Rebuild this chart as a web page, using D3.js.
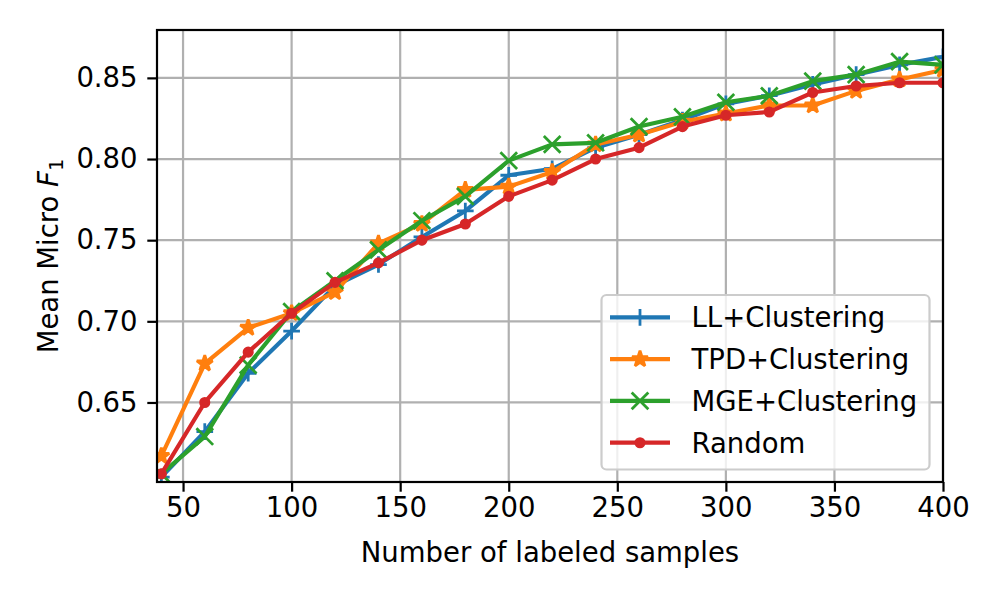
<!DOCTYPE html>
<html><head><meta charset="utf-8">
<script src="https://cdn.jsdelivr.net/npm/d3@7"></script>
<style>body{margin:0;background:#fff}svg{display:block}text{font-family:"DejaVu Sans",sans-serif}</style>
</head><body>
<svg id="c" width="1000" height="600"></svg>
<script>
const samples = [40,60,80,100,120,140,160,180,200,220,240,260,280,300,320,340,360,380,400];
const llClustering  = [0.604,0.632,0.668,0.694,0.722,0.735,0.752,0.768,0.790,0.794,0.807,0.815,0.824,0.834,0.839,0.846,0.852,0.858,0.863];
const tpdClustering = [0.617,0.674,0.696,0.705,0.718,0.748,0.760,0.781,0.783,0.792,0.809,0.815,0.823,0.828,0.833,0.833,0.842,0.849,0.855];
const mgeClustering = [0.606,0.629,0.673,0.706,0.725,0.744,0.762,0.777,0.799,0.809,0.810,0.820,0.826,0.835,0.839,0.848,0.852,0.860,0.858];
const randomSel     = [0.606,0.650,0.681,0.705,0.724,0.736,0.750,0.760,0.777,0.787,0.800,0.807,0.820,0.827,0.829,0.841,0.845,0.847,0.847];
const xTicks = [50,100,150,200,250,300,350,400];
const yTicks = [0.65,0.70,0.75,0.80,0.85];
const seriesNames = ["LL+Clustering","TPD+Clustering","MGE+Clustering","Random"];
const seriesColors = ["#1f77b4","#ff7f0e","#2ca02c","#d62728"];
const seriesMarkers = ["plus","star","x","point"];
const seriesData = [llClustering,tpdClustering,mgeClustering,randomSel];

const L=157,R=943,T=30,B=482;
const svg=d3.select("#c");
const x=d3.scaleLinear().domain([38,400]).range([L,R]);
const y=d3.scaleLinear().domain([0.601,0.8795]).range([B,T]);

// grid
const g=svg.append("g");
g.selectAll(".gx").data(xTicks).join("line").attr("x1",d=>x(d)).attr("x2",d=>x(d)).attr("y1",T).attr("y2",B).attr("stroke","#b0b0b0").attr("stroke-width",2.2);
g.selectAll(".gy").data(yTicks).join("line").attr("y1",d=>y(d)).attr("y2",d=>y(d)).attr("x1",L).attr("x2",R).attr("stroke","#b0b0b0").attr("stroke-width",2.2);

function markerPath(type){
  const s=8.33;
  if(type==="plus") return `M${-s},0H${s}M0,${-s}V${s}`;
  if(type==="x") return `M${-s},${-s}L${s},${s}M${-s},${s}L${s},${-s}`;
  if(type==="star"){
    let p="";for(let i=0;i<10;i++){const r=i%2?s*0.382:s;const a=-Math.PI/2+i*Math.PI/5;p+=(i?"L":"M")+(r*Math.cos(a)).toFixed(2)+","+(r*Math.sin(a)).toFixed(2);}return p+"Z";
  }
  return null;
}
function drawMarker(sel,type,color){
  if(type==="point") sel.append("circle").attr("r",4.17).attr("fill",color).attr("stroke",color).attr("stroke-width",2.78);
  else if(type==="star") sel.append("path").attr("d",markerPath(type)).attr("fill",color).attr("stroke",color).attr("stroke-width",2.78).attr("stroke-linejoin","bevel");
  else sel.append("path").attr("d",markerPath(type)).attr("fill","none").attr("stroke",color).attr("stroke-width",2.78);
}

svg.append("clipPath").attr("id","pc").append("rect").attr("x",L).attr("y",T).attr("width",R-L).attr("height",B-T);
const plot=svg.append("g").attr("clip-path","url(#pc)");
const line=d3.line().x((d,i)=>x(samples[i])).y(d=>y(d));
seriesData.forEach((vals,k)=>{
  const sg=plot.append("g");
  sg.append("path").datum(vals).attr("d",line).attr("fill","none").attr("stroke",seriesColors[k]).attr("stroke-width",4.17).attr("stroke-linejoin","round").attr("stroke-linecap","square");
  vals.forEach((v,i)=>{
    const m=sg.append("g").attr("transform",`translate(${x(samples[i])},${y(v)})`);
    drawMarker(m,seriesMarkers[k],seriesColors[k]);
  });
});

// axes
const xa=svg.append("g").attr("transform",`translate(0,${B})`).call(d3.axisBottom(x).tickValues(xTicks).tickSize(9.7).tickPadding(6));
const ya=svg.append("g").attr("transform",`translate(${L},0)`).call(d3.axisLeft(y).tickValues(yTicks).tickFormat(d3.format(".2f")).tickSize(9.7).tickPadding(9.7));
[xa,ya].forEach(a=>{a.select(".domain").remove();a.selectAll("line").attr("stroke","#000").attr("stroke-width",2.2);a.selectAll("text").attr("font-size",27.5).attr("fill","#000").attr("font-family","DejaVu Sans");});
svg.append("rect").attr("x",L).attr("y",T).attr("width",R-L).attr("height",B-T).attr("fill","none").attr("stroke","#000").attr("stroke-width",2.2);

// labels
svg.append("text").attr("x",(L+R)/2).attr("y",562).attr("text-anchor","middle").attr("font-size",27.5).text("Number of labeled samples");
const yl=svg.append("text").attr("transform","translate(58,256) rotate(-90)").attr("text-anchor","middle").attr("font-size",27.5);
yl.append("tspan").text("Mean Micro ");
yl.append("tspan").attr("font-style","italic").text("F");
yl.append("tspan").attr("font-size",19.5).attr("dy",5).text("1");

// legend
const lg=svg.append("g");
lg.append("rect").attr("x",601.5).attr("y",295).attr("width",328).attr("height",174.5).attr("rx",5).attr("fill","rgba(255,255,255,0.8)").attr("stroke","#cccccc").attr("stroke-width",2.2);
seriesNames.forEach((n,k)=>{
  const cy=317.3+k*41.8;
  lg.append("line").attr("x1",610).attr("x2",670).attr("y1",cy).attr("y2",cy).attr("stroke",seriesColors[k]).attr("stroke-width",4.17);
  drawMarker(lg.append("g").attr("transform",`translate(640,${cy})`),seriesMarkers[k],seriesColors[k]);
  lg.append("text").attr("x",691.5).attr("y",cy+10).attr("font-size",27.5).text(n);
});
</script>
</body></html>
